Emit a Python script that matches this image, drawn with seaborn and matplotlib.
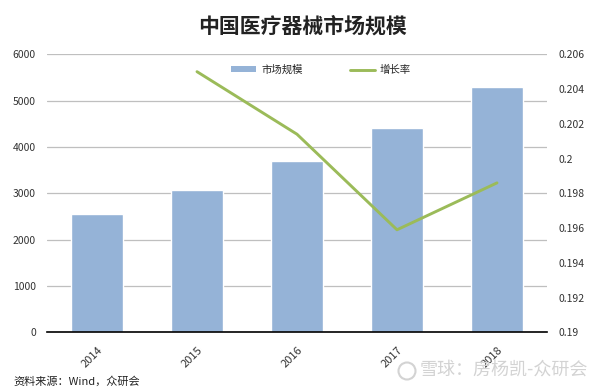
import matplotlib
matplotlib.use("Agg")
import matplotlib.pyplot as plt
import seaborn as sns
import pandas as pd
from matplotlib.patches import Patch, Ellipse
from matplotlib.lines import Line2D
from matplotlib.ticker import FuncFormatter

# ---- data ----
years = ["2014", "2015", "2016", "2017", "2018"]
market_size = [2553, 3082, 3705, 4410, 5288]
growth_years = ["2015", "2016", "2017", "2018"]
growth_rate = [0.2050, 0.2014, 0.1959, 0.1986]
left_ticks = [0, 1000, 2000, 3000, 4000, 5000, 6000]
right_ticks = [0.19, 0.192, 0.194, 0.196, 0.198, 0.2, 0.202, 0.204, 0.206]
title = "中国医疗器械市场规模"
bar_label = "市场规模"
line_label = "增长率"
source = "资料来源：Wind，众研会"
watermark = "雪球：房杨凯-众研会"

sns.set_theme(style="white")
plt.rcParams["font.family"] = ["Noto Sans CJK SC", "DejaVu Sans"]

bar_color = "#95B3D7"
line_color = "#9BBB59"

fig = plt.figure(figsize=(6.03, 3.90), dpi=100)
ax = fig.add_axes([47/603, 1-332.3/390, 500/603, (332.3-54.3)/390])

df = pd.DataFrame({"year": years, "size": market_size})
sns.barplot(data=df, x="year", y="size", color=bar_color, width=0.52,
            saturation=1, ax=ax, zorder=2)
ax.set_xlim(-0.5, 4.5)
ax.set_ylim(0, 6000)
ax.set_yticks(left_ticks)
ax.set_xlabel("")
ax.set_ylabel("")
ax.grid(axis="y", color="#BFBFBF", lw=0.9, zorder=0)
ax.set_axisbelow(True)
for s in ["top", "right", "left"]:
    ax.spines[s].set_visible(False)
ax.spines["bottom"].set_color("black")
ax.spines["bottom"].set_linewidth(1.2)
ax.tick_params(axis="both", length=0, labelsize=7.5, colors="#333333")
ax.tick_params(axis="y", pad=8)
ax.tick_params(axis="x", pad=9, labelsize=8)
for lab in ax.get_xticklabels():
    lab.set_rotation(45)
    lab.set_ha("right")
    lab.set_rotation_mode("anchor")

ax2 = ax.twinx()
gx = [years.index(y) for y in growth_years]
sns.lineplot(x=gx, y=growth_rate, color=line_color, lw=2.1, ax=ax2)
ax2.set_ylim(0.19, 0.206)
ax2.set_yticks(right_ticks)
ax2.yaxis.set_major_formatter(FuncFormatter(lambda v, p: f"{v:g}"))
ax2.set_xlim(-0.5, 4.5)
ax2.grid(False)
for s in ["top", "right", "left", "bottom"]:
    ax2.spines[s].set_visible(False)
ax2.tick_params(axis="y", length=0, labelsize=7.5, colors="#333333", pad=8)

handles = [Patch(facecolor=bar_color, edgecolor="none"),
           Line2D([0], [0], color=line_color, lw=2.1)]
fig.legend(handles, [bar_label, line_label], loc="center",
           bbox_to_anchor=(321/603, 1-70/390), ncol=2, frameon=False,
           fontsize=7.5, handlelength=2.4, handleheight=0.5,
           columnspacing=4.5, handletextpad=0.5)

fig.text(302/603, 1-26/390, title, ha="center", va="center",
         fontsize=15, fontweight="bold", color="#222222")
fig.text(13/603, 1-381/390, source, ha="left", va="center",
         fontsize=8, color="#222222")
fig.text(588/603, 1-371/390, watermark, ha="right", va="center",
         fontsize=13, color="#D3D3D3")
fig.patches.append(Ellipse((407/603, 1-371/390), 17/603, 17/390,
                           transform=fig.transFigure, facecolor="none",
                           edgecolor="#D3D3D3", lw=1.5))

fig.savefig("out.png", dpi=100)
